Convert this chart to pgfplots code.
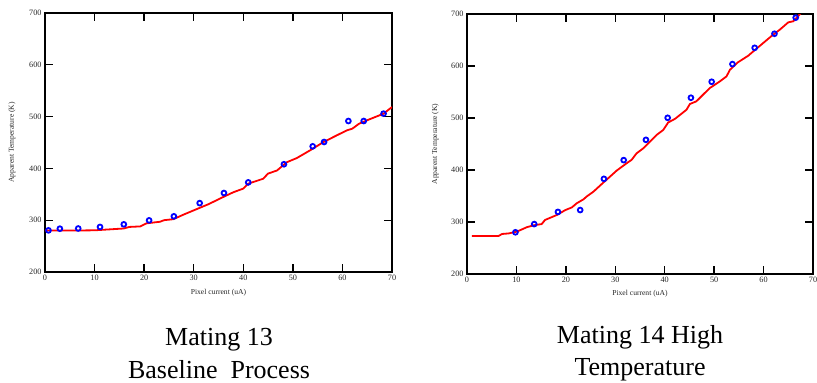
\documentclass[border=0pt]{standalone}
\usepackage{pgfplots}
\pgfplotsset{compat=1.18}
\usepackage{fontspec}
\setmainfont{Liberation Serif}
\begin{document}
\begin{tikzpicture}
\useasboundingbox (0pt,0pt) rectangle (817pt,-383pt);
\pgfplotsset{
  myax/.style={
    scale only axis,
    anchor=south west,
    xmin=0, xmax=70, ymin=200, ymax=700,
    xtick={0,10,...,70}, ytick={200,300,...,700},
    tick align=inside,
    major tick length=8pt,
    axis line style={line width=1.5pt},
    every tick/.style={line width=1.3pt, black},
    tick label style={font=\fontsize{8.2}{9}\selectfont, text=black!85},
    /pgf/number format/assume math mode=true,
    label style={font=\fontsize{7.6}{8}\selectfont, text=black!85},
    xlabel={Pixel current (uA)},
    ylabel={Apparent Temperature (K)},
    clip=true,
  },
  fitline/.style={red, line width=1.8pt, no marks},
  pts/.style={only marks, mark=o, mark size=2.4pt, blue, mark options={line width=1.8pt}},
}
\begin{axis}[myax, at={(45pt,-272pt)}, width=347pt, height=259pt,
  xlabel style={at={(axis description cs:0.5,-0.08)}, anchor=center},
  ylabel style={at={(axis description cs:-0.095,0.5)}, anchor=center, rotate=0}]
\addplot[fitline] coordinates {
(0,280) (5,280) (10,280.5) (15.9,284) (17,287) (19.2,288) (20.5,294) (23.2,297) (24,300) (25.9,302)
(28,311) (30,319) (33,331) (36,345) (38,354) (40,361) (41,370.5) (44,380) (45,390) (46.8,396)
(48.8,412) (50.8,420) (53.5,435) (56.2,451) (58.9,464) (60.9,473.5) (62,476.7) (63.3,486)
(65,493) (68.3,505.7) (70,518.5)};
\addplot[pts] coordinates {
(0.7,280.4) (3.0,283.6) (6.7,284) (11.1,287) (15.9,292) (21.0,299.7) (26.0,307.5) (31.2,333)
(36.1,352.5) (41.0,373) (48.2,408) (54.0,442.6) (56.3,451) (61.2,491.5) (64.3,491.5) (68.3,505.7)};
\end{axis}
\begin{axis}[myax, at={(467pt,-274pt)}, width=346pt, height=260pt,
  xlabel style={at={(axis description cs:0.5,-0.075)}, anchor=center},
  ylabel style={at={(axis description cs:-0.092,0.5)}, anchor=center}]
\addplot[fitline] coordinates {
(1,273.2) (6.4,273.2) (7.1,277) (8.4,278) (10.1,281.5) (12.1,290) (13.5,293.7) (15.1,296)
(15.8,304) (18.2,313.6) (19.9,323) (21.2,328) (22.2,336) (23.6,343.8) (24.2,349) (25.6,358.5)
(27.6,376) (28.9,387) (30.3,399) (32.3,413) (33.3,419.5) (34.3,432) (35.7,442) (38.4,467.7)
(39.7,477) (40.7,491.4) (42.1,498.5) (44.4,515.8) (45.1,527) (46.4,532) (49.1,557.5) (51.1,570)
(52.5,580) (53.2,592.8) (54.8,607) (56.9,619.8) (57.9,628) (59.9,644) (61.9,660) (63.3,670)
(65,684) (66,686) (67.6,702) (68,705)};
\addplot[pts] coordinates {
(9.8,280.2) (13.6,296) (18.4,319.4) (22.9,323) (27.7,383) (31.7,419) (36.2,458) (40.6,500.4)
(45.3,539) (49.5,569.7) (53.7,603.7) (58.2,635) (62.2,662) (66.5,693)};
\end{axis}
\begin{scope}[every node/.style={font=\fontsize{26}{30}\selectfont, anchor=base, inner sep=0pt}]
\node at (219pt,-345pt) {Mating 13};
\node at (219pt,-378pt) {Baseline\ \ Process};
\node at (640pt,-343pt) {Mating 14 High};
\node at (640pt,-375pt) {Temperature};
\end{scope}
\end{tikzpicture}
\end{document}
